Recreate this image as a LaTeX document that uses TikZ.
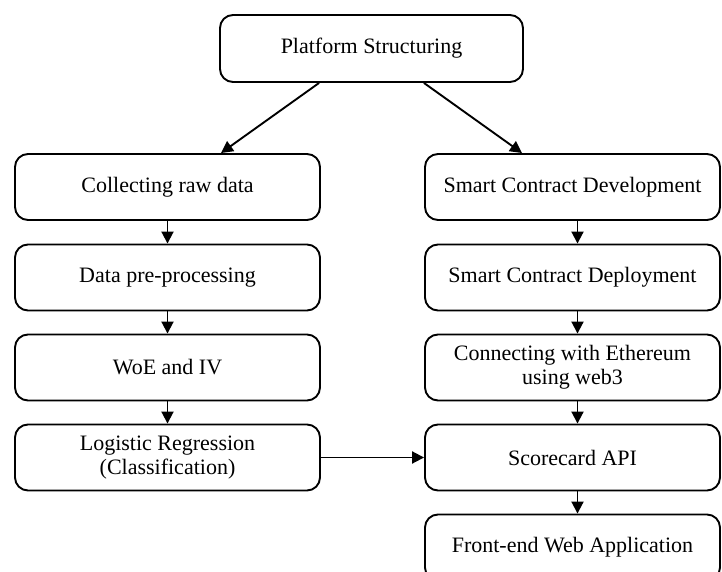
\documentclass[tikz,border=0pt]{standalone}
\usepackage{fontspec}
\setmainfont{Liberation Serif}
\usetikzlibrary{arrows.meta}
\tikzset{
  stepbox/.style={draw=black, line width=1.9pt, rounded corners=13pt, align=center,
    inner sep=0pt, font=\fontsize{22}{24}\selectfont},
  leftbox/.style={stepbox, minimum width=305pt, minimum height=66pt},
  rightbox/.style={stepbox, minimum width=295pt, minimum height=66pt},
  arr/.style={line width=1.9pt, -{Triangle[length=12pt,width=12pt]}}
}
\begin{document}
\begin{tikzpicture}[x=1pt,y=-1pt]
\useasboundingbox (0,0) rectangle (722,572);
\node[stepbox, minimum width=303pt, minimum height=67pt] (top) at (371.5,48.5) {Platform Structuring};
\node[leftbox] (c1) at (167.5,187) {Collecting raw data};
\node[leftbox] (c2) at (167.5,277.5) {Data pre-processing};
\node[leftbox] (c3) at (167.5,367.5) {WoE and IV};
\node[leftbox] (c4) at (167.5,457.5) {Logistic Regression\\(Classification)};
\node[rightbox] (d1) at (572.5,187) {Smart Contract Development};
\node[rightbox] (d2) at (572.5,277.5) {Smart Contract Deployment};
\node[rightbox] (d3) at (572.5,367.5) {Connecting with Ethereum\\using web3};
\node[rightbox] (d4) at (572.5,457.5) {Scorecard API};
\node[rightbox] (d5) at (572.5,547.5) {Front-end Web Application};
\draw[arr] ([xshift=100pt]top.south west) -- ([xshift=-100pt]c1.north east);
\draw[arr] ([xshift=-100pt]top.south east) -- ([xshift=98pt]d1.north west);
\draw[arr] (c1) -- (c2);
\draw[arr] (c2) -- (c3);
\draw[arr] (c3) -- (c4);
\draw[arr] ([xshift=5pt]d1.south) -- ([xshift=5pt]d2.north);
\draw[arr] ([xshift=5pt]d2.south) -- ([xshift=5pt]d3.north);
\draw[arr] ([xshift=5pt]d3.south) -- ([xshift=5pt]d4.north);
\draw[arr] ([xshift=5pt]d4.south) -- ([xshift=5pt]d5.north);
\draw[arr] (c4) -- (d4);
\end{tikzpicture}
\end{document}
